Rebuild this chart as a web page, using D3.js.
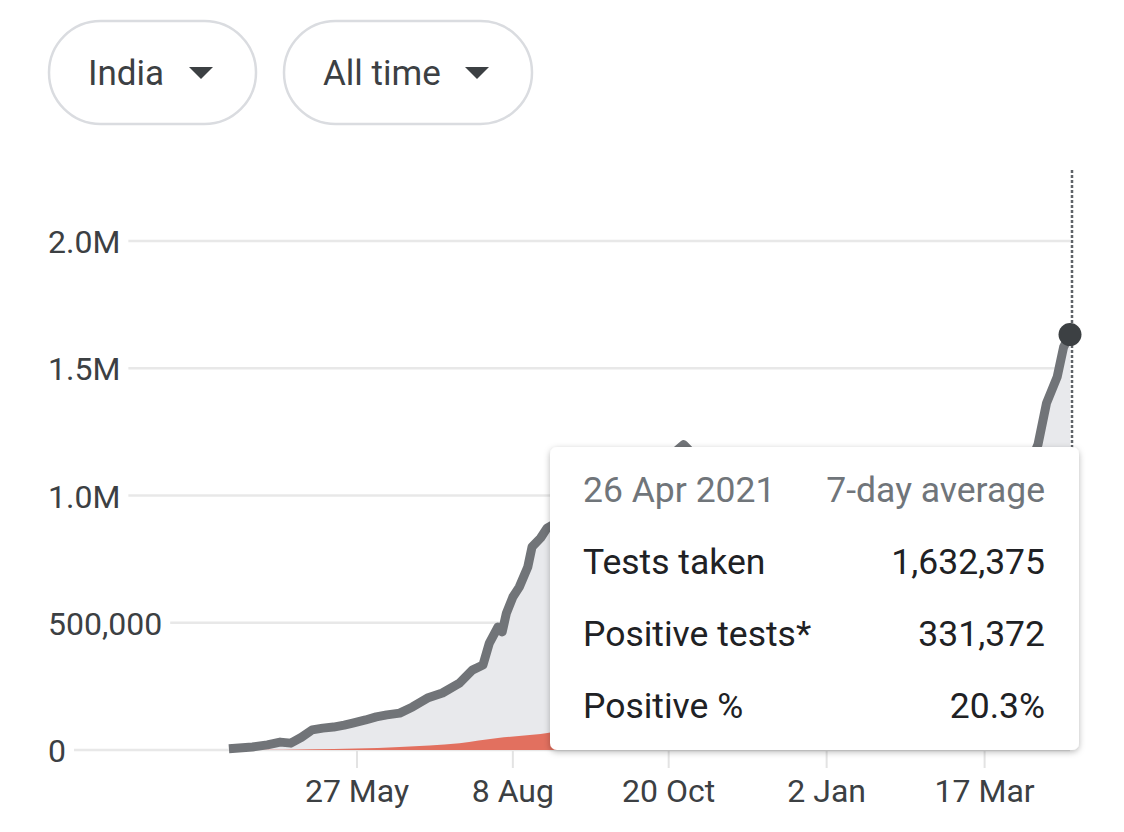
<!DOCTYPE html>
<html><head><meta charset="utf-8">
<script src="https://cdn.jsdelivr.net/npm/d3@7"></script>
<style>
html,body{margin:0;padding:0;background:#fff;}
svg{display:block;font-family:Roboto,"Noto Sans",sans-serif;}
</style></head>
<body><svg id="c" width="1124" height="832"></svg>
<script>
// ---- data ----
const testDates = ["2020-03-28","2020-04-08","2020-04-15","2020-04-21","2020-04-26","2020-05-01","2020-05-06","2020-05-11","2020-05-16","2020-05-21","2020-05-25","2020-05-31","2020-06-05","2020-06-10","2020-06-16","2020-06-22","2020-06-29","2020-07-06","2020-07-14","2020-07-20","2020-07-25","2020-07-28","2020-08-01","2020-08-03","2020-08-05","2020-08-08","2020-08-11","2020-08-15","2020-08-17","2020-08-21","2020-08-24","2020-08-30","2020-09-05","2020-09-12","2020-09-19","2020-09-26","2020-10-03","2020-10-08","2020-10-14","2020-10-20","2020-10-27","2020-11-03","2020-11-10","2020-11-17","2020-11-24","2020-12-01","2020-12-08","2020-12-15","2020-12-22","2020-12-29","2021-01-05","2021-01-12","2021-01-19","2021-01-26","2021-02-02","2021-02-09","2021-02-16","2021-02-23","2021-03-02","2021-03-09","2021-03-16","2021-03-23","2021-03-30","2021-04-04","2021-04-08","2021-04-11","2021-04-15","2021-04-20","2021-04-23","2021-04-26"];
const testValues = [5000,12000,20000,31000,27000,50000,79000,86000,90000,98000,106000,118000,130000,138000,145000,169000,204000,224000,263000,314000,334000,420000,483000,464000,538000,601000,640000,719000,798000,833000,872000,900000,980000,1070000,1110000,1130000,1140000,1172000,1100000,1150000,1200000,1140000,1080000,880000,1000000,1050000,1000000,1040000,1020000,900000,880000,820000,780000,700000,690000,680000,700000,760000,800000,830000,880000,960000,1010000,1080000,1140000,1200000,1363000,1466000,1583000,1632375];
const posDates = ["2020-03-28","2020-05-06","2020-06-16","2020-07-14","2020-08-01","2020-08-21","2020-09-16","2020-10-10","2020-11-01","2020-11-25","2020-12-15","2021-01-15","2021-02-10","2021-03-01","2021-03-20","2021-04-01","2021-04-10","2021-04-18","2021-04-26"];
const posValues = [0,3000,12000,27000,47000,63000,93000,72000,47000,43000,26000,16000,11500,16000,40000,72000,145000,230000,331372];
const xTickDates = ["2020-05-27","2020-08-08","2020-10-20","2021-01-02","2021-03-17"];
const xTickLabels = ["27 May","8 Aug","20 Oct","2 Jan","17 Mar"];
const yTickValues = [0,500000,1000000,1500000,2000000];
const yTickLabels = ["0","500,000","1.0M","1.5M","2.0M"];
const tipDate = "26 Apr 2021";
const tipHeader = "7-day average";
const tipRows = [["Tests taken","1,632,375"],["Positive tests*","331,372"],["Positive %","20.3%"]];
const pills = ["India","All time"];

// ---- scales ----
const parse = d3.utcParse("%Y-%m-%d");
const tests = testDates.map((d,i)=>({date:parse(d),v:testValues[i]}));
const pos = posDates.map((d,i)=>({date:parse(d),v:posValues[i]}));
const x = d3.scaleUtc().domain([parse("2020-05-27"),parse("2021-04-26")]).range([357,1070]);
const y = d3.scaleLinear().domain([0,2000000]).range([750,241]);

const svg = d3.select("#c");
const defs = svg.append("defs");
const f = defs.append("filter").attr("id","sh").attr("x","-10%").attr("y","-10%").attr("width","120%").attr("height","125%");
f.append("feDropShadow").attr("dx",0).attr("dy",2).attr("stdDeviation",3).attr("flood-color","#000").attr("flood-opacity",0.28);

// ---- pills ----
const pillX = [49,284], pillW = [207,248];
pills.forEach((p,i)=>{
  const g = svg.append("g");
  g.append("rect").attr("x",pillX[i]).attr("y",21).attr("width",pillW[i]).attr("height",103).attr("rx",51.5)
    .attr("fill","#fff").attr("stroke","#dadce0").attr("stroke-width",2.5);
  g.append("text").attr("x",pillX[i]+39).attr("y",73).attr("dy","0.35em")
    .attr("font-size",35).attr("fill","#3c4043").text(p);
  const cx = pillX[i]+pillW[i]-55;
  g.append("path").attr("d",`M${cx-12},67L${cx+12},67L${cx},79Z`).attr("fill","#3c4043");
});

// ---- y grid + labels ----
const yg = svg.append("g");
yTickValues.forEach((v,i)=>{
  const t = yg.append("text").attr("x",48).attr("y",y(v)+1).attr("dy","0.35em")
    .attr("font-size",32).attr("fill","#3c4043").text(yTickLabels[i]);
  const w = t.node().getComputedTextLength();
  yg.insert("line","text").attr("x1",48+w+8).attr("x2",1070).attr("y1",y(v)).attr("y2",y(v))
    .attr("stroke","#e8e8e8").attr("stroke-width",2.5);
});

// ---- x ticks ----
const xg = svg.append("g");
xTickDates.forEach((d,i)=>{
  const xx = x(parse(d));
  xg.append("line").attr("x1",xx).attr("x2",xx).attr("y1",751).attr("y2",768).attr("stroke","#e3e3e3").attr("stroke-width",2);
  xg.append("text").attr("x",xx).attr("y",791).attr("dy","0.35em").attr("text-anchor","middle")
    .attr("font-size",32).attr("fill","#3c4043").text(xTickLabels[i]);
});

// ---- areas ----
svg.append("path").datum(tests).attr("fill","#e8e9ec")
  .attr("d",d3.area().x(d=>x(d.date)).y0(y(0)).y1(d=>y(d.v)));
svg.append("path").datum(pos).attr("fill","#e2705f")
  .attr("d",d3.area().x(d=>x(d.date)).y0(y(0)).y1(d=>y(d.v)).curve(d3.curveMonotoneX));
svg.append("path").datum(tests).attr("fill","none").attr("stroke","#717478").attr("stroke-width",9)
  .attr("stroke-linejoin","round").attr("stroke-linecap","butt")
  .attr("d",d3.line().x(d=>x(d.date)).y(d=>y(d.v)));

// ---- hover line + dot ----
const last = tests[tests.length-1];
svg.append("line").attr("x1",x(last.date)+2).attr("x2",x(last.date)+2).attr("y1",170).attr("y2",750)
  .attr("stroke","#5f6368").attr("stroke-width",2.5).attr("stroke-dasharray","3,2");
svg.append("circle").attr("cx",x(last.date)).attr("cy",y(last.v)).attr("r",11.5).attr("fill","#3c4043");

// ---- tooltip ----
const tg = svg.append("g");
tg.append("rect").attr("x",550).attr("y",447).attr("width",529).attr("height",303).attr("rx",7)
  .attr("fill","#fff").attr("filter","url(#sh)");
const fs = 35.5;
tg.append("text").attr("x",583).attr("y",490).attr("dy","0.35em").attr("font-size",fs).attr("fill","#70757a").text(tipDate);
tg.append("text").attr("x",1045).attr("y",490).attr("dy","0.35em").attr("text-anchor","end").attr("font-size",fs).attr("fill","#70757a").text(tipHeader);
tipRows.forEach((r,i)=>{
  const yy = 562 + i*72;
  tg.append("text").attr("x",583).attr("y",yy).attr("dy","0.35em").attr("font-size",fs).attr("fill","#202124").text(r[0]);
  tg.append("text").attr("x",1045).attr("y",yy).attr("dy","0.35em").attr("text-anchor","end").attr("font-size",fs).attr("fill","#202124").text(r[1]);
});
</script></body></html>
